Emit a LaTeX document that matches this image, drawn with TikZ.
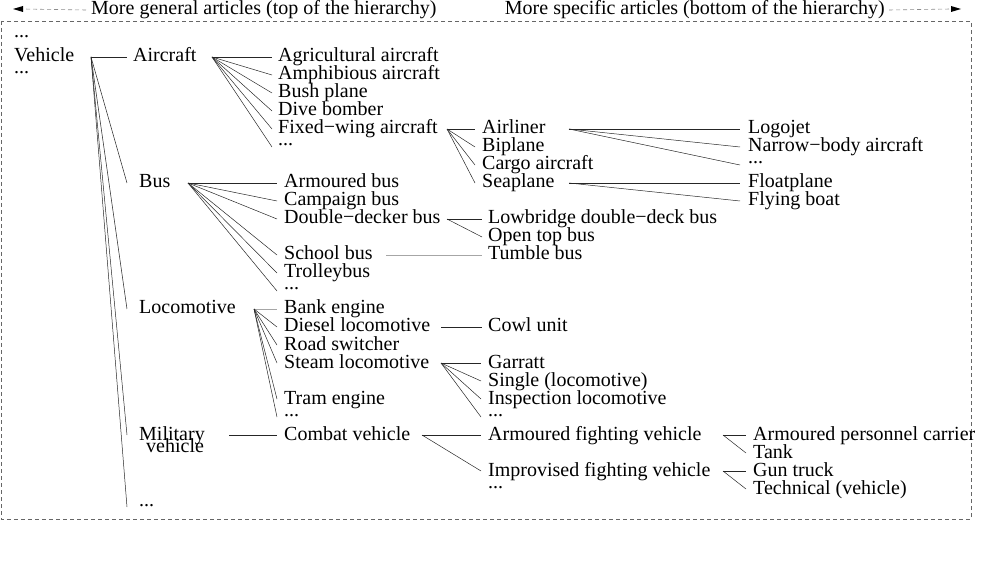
\documentclass[tikz,border=0pt]{standalone}
\usepackage{fontspec}
\setmainfont{Liberation Serif}
\newcommand\dts{\raisebox{6pt}{...}}
\tikzset{
  lbl/.style={anchor=base west, inner sep=0pt, text height=13pt, text depth=3pt, font=\fontsize{20}{20}\selectfont},
  conn/.style={draw=black!85, line width=0.5pt},
  lightconn/.style={draw=black!35, line width=0.9pt},
  framebox/.style={draw=black!60, line width=0.6pt, dash pattern=on 4pt off 3pt},
  guide/.style={draw=black!45, line width=0.6pt, dash pattern=on 4pt off 3pt},
  tipfill/.style={fill=black, draw=none},
}
\newcommand\lb[4]{\node[lbl] (#1) at (#2,{62+18*(#3)}) {#4};}
\begin{document}
\begin{tikzpicture}[x=1pt,y=-1pt]
\useasboundingbox (0,0) rectangle (988,577);
% top guides
\node[lbl] (gen) at (91,15) {More general articles (top of the hierarchy)};
\node[lbl, anchor=base east] (spec) at (885,15) {More specific articles (bottom of the hierarchy)};
\coordinate (ltip) at (13,9);
\coordinate (rtip) at (961,9);
\draw[guide] ([xshift=-5pt]gen.west) -- ([xshift=10pt]ltip);
\draw[guide] ([xshift=4pt]spec.east) -- ([xshift=-10pt]rtip);
\fill[tipfill] (ltip) -- ++(10,-3) -- ++(0,6) -- cycle;
\fill[tipfill] (rtip) -- ++(-10,-3) -- ++(0,6) -- cycle;
% frame
\draw[framebox] (1,21) rectangle (971,519);
% column 1
\lb{v0}{14}{-1}{\dts}
\lb{veh}{14}{0}{Vehicle}
\lb{v1}{14}{1}{\dts}
% column 2
\lb{air}{133}{0}{Aircraft}
\lb{bus}{139}{7}{Bus}
\lb{loco}{139}{14}{Locomotive}
\lb{mil}{139}{21}{Military}
\node[lbl] (mil2) at (146,452) {vehicle};
\lb{vd}{139}{25}{\dts}
% aircraft children
\lb{agri}{278}{0}{Agricultural aircraft}
\lb{amph}{278}{1}{Amphibious aircraft}
\lb{bush}{278}{2}{Bush plane}
\lb{dive}{278}{3}{Dive bomber}
\lb{fixed}{278}{4}{Fixed−wing aircraft}
\lb{ad}{278}{5}{\dts}
% bus children
\lb{armb}{284}{7}{Armoured bus}
\lb{camp}{284}{8}{Campaign bus}
\lb{dd}{284}{9}{Double−decker bus}
\lb{school}{284}{11}{School bus}
\lb{trol}{284}{12}{Trolleybus}
\lb{bd}{284}{13}{\dts}
% locomotive children
\lb{bank}{284}{14}{Bank engine}
\lb{diesel}{284}{15}{Diesel locomotive}
\lb{road}{284}{16}{Road switcher}
\lb{steam}{284}{17}{Steam locomotive}
\lb{tram}{284}{19}{Tram engine}
\lb{ld}{284}{20}{\dts}
% military
\lb{combat}{284}{21}{Combat vehicle}
% fixed-wing children
\lb{airl}{482}{4}{Airliner}
\lb{bipl}{482}{5}{Biplane}
\lb{cargo}{482}{6}{Cargo aircraft}
\lb{sea}{482}{7}{Seaplane}
% double-decker children
\lb{low}{488}{9}{Lowbridge double−deck bus}
\lb{open}{488}{10}{Open top bus}
\lb{tumble}{488}{11}{Tumble bus}
\lb{cowl}{488}{15}{Cowl unit}
\lb{garr}{488}{17}{Garratt}
\lb{single}{488}{18}{Single (locomotive)}
\lb{insp}{488}{19}{Inspection locomotive}
\lb{sd}{488}{20}{\dts}
\lb{afv}{488}{21}{Armoured fighting vehicle}
\lb{ifv}{488}{23}{Improvised fighting vehicle}
\lb{cd}{488}{24}{\dts}
% column 5
\lb{logo}{748}{4}{Logojet}
\lb{narrow}{748}{5}{Narrow−body aircraft}
\lb{ald}{748}{6}{\dts}
\lb{float}{748}{7}{Floatplane}
\lb{flyb}{748}{8}{Flying boat}
\lb{apc}{753}{21}{Armoured personnel carrier}
\lb{tank}{753}{22}{Tank}
\lb{gun}{753}{23}{Gun truck}
\lb{tech}{753}{24}{Technical (vehicle)}
% fan origins
\coordinate (vo) at (91,57);
\coordinate (ao) at (212,57);
\coordinate (bo) at (188,183);
\coordinate (lo) at (254,309);
\coordinate (mo) at (229,435);
\coordinate (fo) at (447,129);
\coordinate (ddo) at (447,219);
\coordinate (so) at (386,255);
\coordinate (dio) at (441,327);
\coordinate (sto) at (441,363);
\coordinate (co) at (422,435);
\coordinate (alo) at (569,129);
\coordinate (spo) at (569,183);
\coordinate (afo) at (723,435);
\coordinate (ifo) at (723,471);
% connectors
\draw[conn] (vo) -- ([xshift=-6pt]air.west);
\foreach \c in {bus,loco,mil,vd} \draw[conn] (vo) -- ([xshift=-12pt]\c.west);
\foreach \c in {agri,amph,bush,dive,fixed,ad} \draw[conn] (ao) -- ([xshift=-6pt]\c.west);
\foreach \c in {armb,camp,dd,school,trol,bd} \draw[conn] (bo) -- ([xshift=-7pt]\c.west);
\draw[lightconn] (lo) -- ([xshift=-7pt]bank.west);
\foreach \c in {diesel,road,steam,tram,ld} \draw[conn] (lo) -- ([xshift=-7pt]\c.west);
\draw[conn] (mo) -- ([xshift=-7pt]combat.west);
\foreach \c in {airl,bipl,cargo,sea} \draw[conn] (fo) -- ([xshift=-7pt]\c.west);
\foreach \c in {low,open} \draw[conn] (ddo) -- ([xshift=-6pt]\c.west);
\draw[lightconn] (so) -- ([xshift=-6pt]tumble.west);
\draw[conn] (dio) -- ([xshift=-6pt]cowl.west);
\foreach \c in {garr,single,insp,sd} \draw[conn] (sto) -- ([xshift=-7pt]\c.west);
\foreach \c in {afv,ifv} \draw[conn] (co) -- ([xshift=-7pt]\c.west);
\foreach \c in {logo,narrow,ald} \draw[conn] (alo) -- ([xshift=-8pt]\c.west);
\foreach \c in {float,flyb} \draw[conn] (spo) -- ([xshift=-8pt]\c.west);
\foreach \c in {apc,tank} \draw[conn] (afo) -- ([xshift=-7pt]\c.west);
\foreach \c in {gun,tech} \draw[conn] (ifo) -- ([xshift=-7pt]\c.west);
\end{tikzpicture}
\end{document}
